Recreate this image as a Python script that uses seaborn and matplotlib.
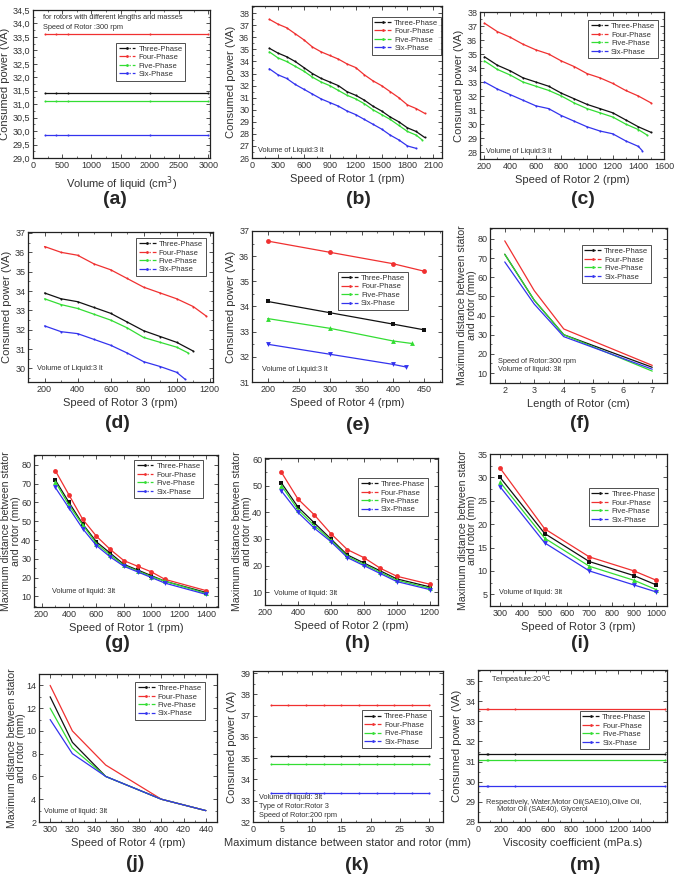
import numpy as np
import pandas as pd
import matplotlib
matplotlib.use('Agg')
import matplotlib.pyplot as plt
import seaborn as sns
from matplotlib.lines import Line2D
from matplotlib.ticker import AutoMinorLocator, FuncFormatter

PHASES = ['Three-Phase', 'Four-Phase', 'Five-Phase', 'Six-Phase']
COLORS = {'Three-Phase': '#111111', 'Four-Phase': '#f03030',
          'Five-Phase': '#33dd33', 'Six-Phase': '#3333ee'}

# (a) volume of liquid
a_x = [200, 400, 600, 2000, 3000]
a_three = [31.4] * 5
a_four = [33.6] * 5
a_five = [31.1] * 5
a_six = [29.85] * 5

# (b) speed of rotor 1
b_x = [200, 300, 400, 500, 600, 700, 800, 900, 1000, 1100, 1200, 1300, 1400, 1500, 1600, 1700, 1800, 1900, 2000]
b_three = [35.1, 34.7, 34.4, 34.0, 33.5, 33.0, 32.6, 32.3, 32.0, 31.5, 31.2, 30.8, 30.3, 29.9, 29.4, 29.0, 28.5, 28.2, 27.7]
b_four = [37.5, 37.1, 36.8, 36.3, 35.8, 35.2, 34.8, 34.5, 34.2, 33.8, 33.5, 32.9, 32.4, 32.0, 31.5, 31.0, 30.4, 30.1, 29.7]
b_five_x = [200, 300, 400, 500, 600, 700, 800, 900, 1000, 1100, 1200, 1300, 1400, 1500, 1600, 1700, 1800, 1900, 1970]
b_five = [34.8, 34.3, 34.0, 33.6, 33.2, 32.7, 32.3, 32.0, 31.6, 31.2, 30.9, 30.5, 30.0, 29.6, 29.2, 28.7, 28.2, 27.9, 27.5]
b_six_x = [200, 300, 400, 500, 600, 700, 800, 900, 1000, 1100, 1200, 1300, 1400, 1500, 1600, 1700, 1800, 1900]
b_six = [33.4, 32.9, 32.6, 32.1, 31.7, 31.3, 30.9, 30.6, 30.3, 29.9, 29.6, 29.2, 28.8, 28.4, 27.9, 27.5, 27.0, 26.8]

# (c) speed of rotor 2
c_x = [200, 300, 400, 500, 600, 700, 800, 900, 1000, 1100, 1200, 1300, 1400, 1500]
c_three = [34.8, 34.2, 33.8, 33.3, 33.0, 32.7, 32.2, 31.8, 31.4, 31.1, 30.8, 30.3, 29.8, 29.4]
c_four = [37.2, 36.6, 36.2, 35.7, 35.3, 35.0, 34.5, 34.1, 33.6, 33.3, 32.9, 32.4, 32.0, 31.5]
c_five_x = [200, 300, 400, 500, 600, 700, 800, 900, 1000, 1100, 1200, 1300, 1400, 1470]
c_five = [34.5, 33.9, 33.5, 33.0, 32.7, 32.4, 32.0, 31.5, 31.1, 30.8, 30.5, 30.0, 29.6, 29.2]
c_six_x = [200, 300, 400, 500, 600, 700, 800, 900, 1000, 1100, 1200, 1300, 1400, 1430]
c_six = [33.0, 32.5, 32.1, 31.7, 31.3, 31.1, 30.6, 30.2, 29.8, 29.5, 29.3, 28.8, 28.4, 28.1]

# (d) speed of rotor 3
d_three_x = [200, 300, 400, 500, 600, 700, 800, 900, 1000, 1100]
d_three = [33.9, 33.6, 33.45, 33.15, 32.85, 32.4, 31.95, 31.65, 31.35, 30.9]
d_four_x = [200, 300, 400, 500, 600, 700, 800, 900, 1000, 1100, 1180]
d_four = [36.3, 36.0, 35.85, 35.4, 35.1, 34.65, 34.2, 33.9, 33.6, 33.2, 32.7]
d_five_x = [200, 300, 400, 500, 600, 700, 800, 900, 1000, 1070]
d_five = [33.6, 33.3, 33.1, 32.8, 32.5, 32.1, 31.6, 31.35, 31.1, 30.8]
d_six_x = [200, 300, 400, 500, 600, 700, 800, 900, 1000, 1050]
d_six = [32.2, 31.9, 31.8, 31.5, 31.2, 30.8, 30.35, 30.1, 29.8, 29.45]

# (e) speed of rotor 4
e_x = [200, 300, 400, 450]
e_three = [34.2, 33.75, 33.3, 33.07]
e_four = [36.6, 36.15, 35.7, 35.4]
e_five_x = [200, 300, 400, 430]
e_five = [33.52, 33.13, 32.63, 32.53]
e_six_x = [200, 300, 400, 420]
e_six = [32.5, 32.1, 31.7, 31.6]

# (f) length of rotor
f_x = [2, 3, 4, 7]
f_three = [72, 48, 30, 13]
f_four = [79, 53, 33, 14]
f_five = [72, 48, 30, 11]
f_six = [68, 46, 29, 12]

# (g) rotor 1 distance
g_x = [300, 400, 500, 600, 700, 800, 900, 1000, 1100, 1400]
g_three = [72, 60, 48.5, 39, 33, 27, 24, 21, 18, 12]
g_four = [77, 64, 51, 42, 35, 29, 26, 23, 19, 13]
g_five = [71, 58.5, 48, 38, 32, 26.5, 23.5, 20.5, 18, 11.5]
g_six = [68, 57, 46, 37, 31, 26, 23, 20, 17, 11]

# (h) rotor 2 distance
h_x = [300, 400, 500, 600, 700, 800, 900, 1000, 1200]
h_three = [51, 42, 36, 30, 24, 21, 18, 15, 12]
h_four = [55, 45, 39, 32, 26, 23, 19, 16, 13]
h_five = [50, 41, 35, 29.5, 23.5, 20.5, 17.5, 14.5, 11.5]
h_six = [48, 40, 34, 29, 23, 20, 17, 14, 11]

# (i) rotor 3 distance
i_x = [300, 500, 700, 900, 1000]
i_three = [30, 18, 12, 9, 7]
i_four = [32, 19, 13, 10, 8]
i_five = [29, 17, 11, 8, 6]
i_six = [28, 16, 10, 7, 5.5]

# (j) rotor 4 distance
j_x = [300, 320, 350, 400, 440]
j_three = [13, 9, 6, 4, 3]
j_four = [14, 10, 7, 4, 3]
j_five = [12, 8.5, 6, 4, 3]
j_six = [11, 8, 6, 4, 3]

# (k) distance vs power
k_x = [3, 6, 9, 12, 15, 18, 21, 24, 27, 30]
k_three = [35.1] * 10
k_four = [37.5] * 10
k_five = [34.75] * 10
k_six = [33.35] * 10

# (m) viscosity
m_x = [1, 80, 84, 320, 1600]
m_three = [31.4] * 5
m_four = [33.6] * 5
m_five = [31.1] * 5
m_six = [29.8] * 5


def long_df(series):
    rows = []
    for phase, (xs, ys) in zip(PHASES, series):
        for x, y in zip(xs, ys):
            rows.append({'x': x, 'y': y, 'phase': phase})
    return pd.DataFrame(rows)


def panel(fig, rect, series, xlim, ylim, xticks, yticks, xlabel, ylabel, tag, tag_xy,
          leg_anchor, notes, marker_set='dot', yfmt=None):
    ax = fig.add_axes(rect)
    df = long_df(series)
    if marker_set == 'shapes':
        mk = {'Three-Phase': 's', 'Four-Phase': 'o', 'Five-Phase': '^', 'Six-Phase': 'v'}
        ms = 3.5
    elif marker_set == 'dot':
        mk = {p: 'o' for p in PHASES}
        ms = 1.5
    else:
        mk = None
        ms = 0
    if mk is None:
        sns.lineplot(data=df, x='x', y='y', hue='phase', palette=COLORS, ax=ax,
                     legend=False, linewidth=0.9, estimator=None, sort=False)
    else:
        sns.lineplot(data=df, x='x', y='y', hue='phase', style='phase', palette=COLORS,
                     markers=mk, dashes=False, markersize=ms, markeredgewidth=0,
                     ax=ax, legend=False, linewidth=0.9, estimator=None, sort=False)
    ax.set_xlim(*xlim)
    ax.set_ylim(*ylim)
    ax.set_xticks(xticks)
    ax.set_yticks(yticks)
    if yfmt is not None:
        ax.yaxis.set_major_formatter(FuncFormatter(yfmt))
    ax.xaxis.set_minor_locator(AutoMinorLocator(2))
    ax.yaxis.set_minor_locator(AutoMinorLocator(2))
    ax.tick_params(which='both', direction='in', top=True, right=True, labelsize=6.5,
                   pad=2, colors='#333333', labelcolor='#333333')
    ax.tick_params(which='major', length=3, width=0.6)
    ax.tick_params(which='minor', length=1.5, width=0.5)
    for s in ax.spines.values():
        s.set_linewidth(0.9)
        s.set_color('#222222')
    ax.set_xlabel(xlabel, fontsize=8, labelpad=3, color='#333333')
    if '\n' in ylabel:
        ax.set_ylabel(ylabel, fontsize=7.6, labelpad=0, color='#333333', linespacing=0.95)
    else:
        ax.set_ylabel(ylabel, fontsize=8, labelpad=2, color='#333333')
    handles = [Line2D([0], [0], color=COLORS[p], linestyle='-.', marker='.', markersize=2,
                      linewidth=0.9) for p in PHASES]
    leg = ax.legend(handles, PHASES, loc='upper right', bbox_to_anchor=leg_anchor,
                    fontsize=5.5, frameon=True, fancybox=False, handlelength=2.2,
                    handletextpad=0.4, borderpad=0.35, labelspacing=0.15,
                    borderaxespad=0)
    leg.get_frame().set_edgecolor('#222222')
    leg.get_frame().set_linewidth(0.7)
    for t in leg.get_texts():
        t.set_color('#333333')
    for (tx, ty, s) in notes:
        ax.text(tx, ty, s, transform=ax.transAxes, fontsize=5.3, color='#333333',
                va='center', ha='left')
    fig.text(tag_xy[0] / 674, 1 - tag_xy[1] / 886, tag, fontsize=14, fontweight='bold',
             ha='center', va='center')
    return ax


def rect(l, r, t, b):
    return [l / 674, 1 - b / 886, (r - l) / 674, (b - t) / 886]


sns.set_theme(style='ticks')
plt.rcParams['font.family'] = ['Liberation Sans', 'DejaVu Sans']

fig = plt.figure(figsize=(6.74, 8.86), dpi=100)

DIST = 'Maximum distance between stator\nand rotor (mm)'
POWER = 'Consumed power (VA)'

panel(fig, rect(33, 210, 10, 158),
      [(a_x, a_three), (a_x, a_four), (a_x, a_five), (a_x, a_six)],
      (0, 3030), (29.0, 34.5), range(0, 3001, 500), np.arange(29.0, 34.51, 0.5),
      'Volume of liquid (cm$^3$)', POWER, '(a)', (115, 200), (0.86, 0.78),
      [(0.056, 0.946, 'for rotors with different lengths and masses'),
       (0.056, 0.885, 'Speed of Rotor :300 rpm')],
      yfmt=lambda v, p: f'{v:.1f}'.replace('.', ','))

panel(fig, rect(252, 442, 6, 158),
      [(b_x, b_three), (b_x, b_four), (b_five_x, b_five), (b_six_x, b_six)],
      (0, 2200), (26, 38.6), range(0, 2101, 300), range(26, 39),
      'Speed of Rotor 1 (rpm)', POWER, '(b)', (358, 200), (0.995, 0.93),
      [(0.03, 0.05, 'Volume of Liquid:3 lt')])

panel(fig, rect(480, 664, 12, 159),
      [(c_x, c_three), (c_x, c_four), (c_five_x, c_five), (c_six_x, c_six)],
      (165, 1600), (27.5, 38), range(200, 1601, 200), range(28, 39),
      'Speed of Rotor 2 (rpm)', POWER, '(c)', (583, 200), (0.966, 0.945),
      [(0.03, 0.05, 'Volume of Liquid:3 lt')])

panel(fig, rect(28, 213, 232, 382),
      [(d_three_x, d_three), (d_four_x, d_four), (d_five_x, d_five), (d_six_x, d_six)],
      (100, 1220), (29.3, 37.05), range(200, 1201, 200), range(30, 38),
      'Speed of Rotor 3 (rpm)', POWER, '(d)', (117, 423), (0.96, 0.96),
      [(0.05, 0.087, 'Volume of Liquid:3 lt')])

panel(fig, rect(252, 442, 231, 382),
      [(e_x, e_three), (e_x, e_four), (e_five_x, e_five), (e_six_x, e_six)],
      (175, 478), (31, 37), range(200, 451, 50), range(31, 38),
      'Speed of Rotor 4 (rpm)', POWER, '(e)', (358, 425), (0.82, 0.73),
      [(0.05, 0.086, 'Volume of Liquid:3 lt')], marker_set='shapes')

panel(fig, rect(490, 667, 228, 383),
      [(f_x, f_three), (f_x, f_four), (f_x, f_five), (f_x, f_six)],
      (1.5, 7.5), (4.8, 85.7), range(2, 8), range(10, 81, 10),
      'Length of Rotor (cm)', DIST, '(f)', (580, 424), (0.91, 0.89),
      [(0.045, 0.14, 'Speed of Rotor:300 rpm'), (0.045, 0.085, 'Volume of liquid: 3lt')],
      marker_set=None)

panel(fig, rect(34, 218, 455, 607),
      [(g_x, g_three), (g_x, g_four), (g_x, g_five), (g_x, g_six)],
      (145, 1485), (4.3, 85.3), range(200, 1401, 200), range(10, 81, 10),
      'Speed of Rotor 1 (rpm)', DIST, '(g)', (117, 644), (0.92, 0.967),
      [(0.1, 0.105, 'Volume of liquid: 3lt')], marker_set='shapes')

panel(fig, rect(265, 438, 458, 605),
      [(h_x, h_three), (h_x, h_four), (h_x, h_five), (h_x, h_six)],
      (205, 1250), (5.2, 60.4), range(200, 1201, 200), range(10, 61, 10),
      'Speed of Rotor 2 (rpm)', DIST, '(h)', (358, 644), (0.94, 0.864),
      [(0.05, 0.08, 'Volume of liquid: 3lt')], marker_set='shapes')

panel(fig, rect(490, 667, 454, 606),
      [(i_x, i_three), (i_x, i_four), (i_x, i_five), (i_x, i_six)],
      (255, 1048), (2.5, 35), range(300, 1001, 100), range(5, 36, 5),
      'Speed of Rotor 3 (rpm)', DIST, '(i)', (580, 644), (0.95, 0.776),
      [(0.05, 0.09, 'Volume of liquid: 3lt')], marker_set='shapes')

panel(fig, rect(39, 217, 674, 822),
      [(j_x, j_three), (j_x, j_four), (j_x, j_five), (j_x, j_six)],
      (290, 450), (2, 15), range(300, 441, 20), range(2, 15, 2),
      'Speed of Rotor 4 (rpm)', DIST, '(j)', (135, 864), (0.93, 0.946),
      [(0.03, 0.07, 'Volume of liquid: 3lt')], marker_set=None)

panel(fig, rect(253, 443, 671, 822),
      [(k_x, k_three), (k_x, k_four), (k_x, k_five), (k_x, k_six)],
      (0, 32.3), (32, 39.1), range(0, 31, 5), range(32, 40),
      'Maximum distance between stator and rotor (mm)', POWER, '(k)', (357, 865),
      (0.937, 0.74),
      [(0.03, 0.16, 'Volume of liquid: 3lt'), (0.03, 0.1, 'Type of Rotor:Rotor 3'),
       (0.03, 0.04, 'Speed of Rotor:200 rpm')])

panel(fig, rect(478, 667, 670, 822),
      [(m_x, m_three), (m_x, m_four), (m_x, m_five), (m_x, m_six)],
      (0, 1620), (28, 35.55), range(0, 1401, 200), range(28, 36),
      'Viscosity coefficient (mPa.s)', POWER, '(m)', (585, 865), (0.905, 0.73),
      [(0.07, 0.93, 'Tempeature:20$^0$C'),
       (0.04, 0.13, 'Respectively, Water,Motor Oil(SAE10),Olive Oil,'),
       (0.1, 0.085, 'Motor Oil (SAE40), Glycerol')])

fig.savefig('out.png', dpi=100)
